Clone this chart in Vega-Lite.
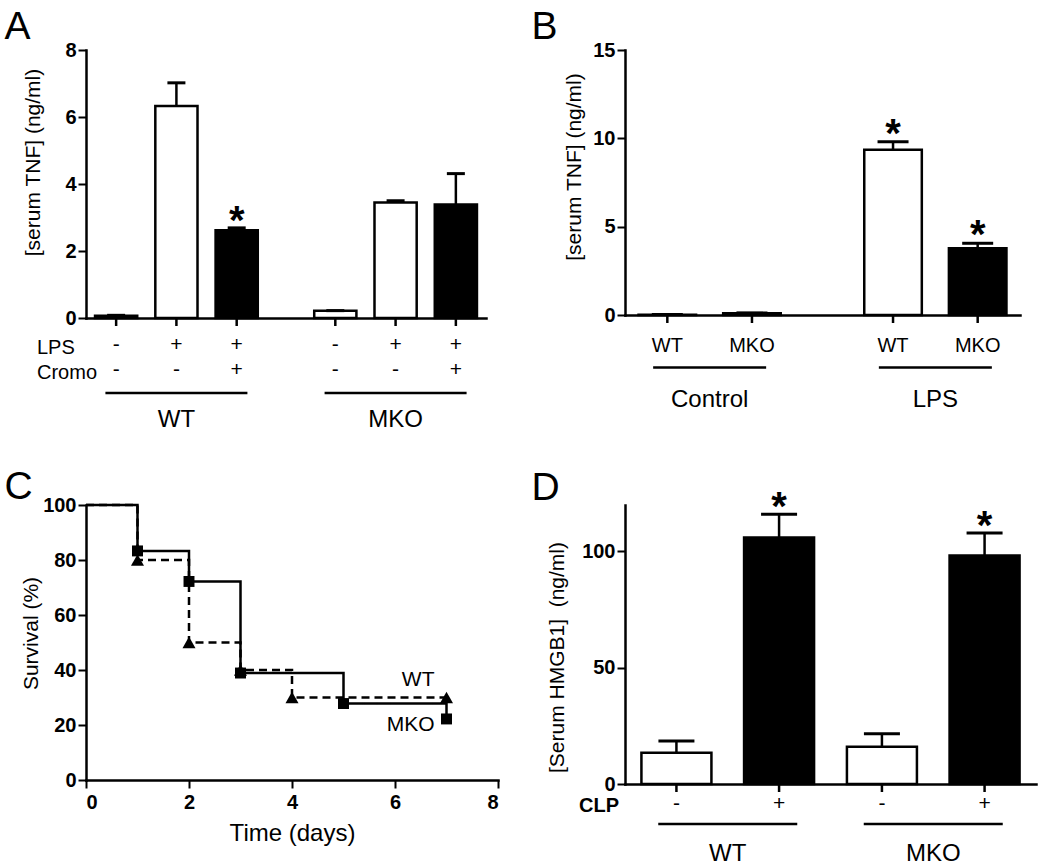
{
  "$schema": "https://vega.github.io/schema/vega-lite/v6.json",
  "background": "white",
  "padding": {"left": 4, "top": 8, "right": 5, "bottom": 0},
  "columns": 2,
  "spacing": {"row": 187, "column": 127},
  "bounds": "flush",
  "align": "each",
  "resolve": {"scale": {"xOffset": "independent", "fill": "independent", "strokeDash": "independent", "shape": "independent", "size": "independent"}},
  "config": {
    "font": "Liberation Sans",
    "view": {"stroke": null},
    "axis": {"domainColor": "black", "domainWidth": 2.5, "domainCap": "square", "tickColor": "black", "tickWidth": 2, "tickSize": 8, "labelColor": "black", "titleColor": "black", "grid": false, "labelFontSize": 20, "labelFontWeight": "bold", "titleFontSize": 21, "titleFontWeight": "normal", "labelPadding": 2},
    "title": {"fontSize": 39, "fontWeight": "normal", "anchor": "start", "frame": "group", "color": "black", "baseline": "alphabetic"},
    "text": {"color": "black"}
  },
  "concat": [
    {
      "width": 400, "height": 268,
      "title": {"text": "A", "dx": -81.5, "offset": -7},
      "data": {"values": [
        {"genotype": "WT", "cond": "c1", "LPS": "-", "Cromo": "-", "mean": 0.07, "upper": 0.08, "sig": ""},
        {"genotype": "WT", "cond": "c2", "LPS": "+", "Cromo": "-", "mean": 6.33, "upper": 7.02, "sig": ""},
        {"genotype": "WT", "cond": "c3", "LPS": "+", "Cromo": "+", "mean": 2.62, "upper": 2.69, "sig": "*"},
        {"genotype": "MKO", "cond": "c1", "LPS": "-", "Cromo": "-", "mean": 0.22, "upper": 0.22, "sig": ""},
        {"genotype": "MKO", "cond": "c2", "LPS": "+", "Cromo": "-", "mean": 3.45, "upper": 3.5, "sig": ""},
        {"genotype": "MKO", "cond": "c3", "LPS": "+", "Cromo": "+", "mean": 3.39, "upper": 4.31, "sig": ""}
      ]},
      "encoding": {
        "x": {"field": "genotype", "type": "nominal", "scale": {"type": "band", "domain": ["WT", "MKO"], "paddingInner": 0.175, "paddingOuter": 0},
          "axis": {"title": ["LPS", "Cromo"], "labelAngle": 0, "ticks": false, "tickSize": 0, "labelPadding": 89, "labelFontSize": 24, "labelFontWeight": "normal", "titleX": -49.5, "titleY": 19, "titleAlign": "left", "titleBaseline": "top", "titleFontSize": 20, "titleLineHeight": 25, "titleAngle": 0}}
      },
      "layer": [
        {"mark": {"type": "bar", "stroke": "black", "strokeWidth": 2.5},
          "encoding": {
            "xOffset": {"field": "cond", "type": "nominal", "scale": {"type": "band", "domain": ["c1", "c2", "c3"], "paddingInner": 0.3, "paddingOuter": 0.15}},
            "y": {"field": "mean", "type": "quantitative", "scale": {"domain": [0, 8], "nice": false}, "axis": {"values": [0, 2, 4, 6, 8], "title": "[serum TNF] (ng/ml)", "titleX": -52.5, "titleY": 112, "titleBaseline": "middle"}},
            "fill": {"field": "Cromo", "type": "nominal", "scale": {"domain": ["-", "+"], "range": ["white", "black"]}, "legend": null}}},
        {"mark": {"type": "rule", "strokeWidth": 2.5, "color": "black"},
          "encoding": {"xOffset": {"field": "cond", "type": "nominal"}, "y": {"field": "mean", "type": "quantitative"}, "y2": {"field": "upper"}}},
        {"mark": {"type": "tick", "thickness": 3, "size": 18, "color": "black", "opacity": 1},
          "encoding": {"xOffset": {"field": "cond", "type": "nominal"}, "y": {"field": "upper", "type": "quantitative"}}},
        {"mark": {"type": "text", "fontSize": 40, "fontWeight": "bold", "baseline": "alphabetic", "dy": 6},
          "encoding": {"xOffset": {"field": "cond", "type": "nominal"}, "y": {"field": "upper", "type": "quantitative"}, "text": {"field": "sig"}}},
        {"mark": {"type": "tick", "thickness": 8, "size": 2.5, "color": "black", "opacity": 1},
          "encoding": {"xOffset": {"field": "cond", "type": "nominal"}, "y": {"datum": -0.12}}},
        {"mark": {"type": "text", "fontSize": 21, "baseline": "middle"},
          "encoding": {"xOffset": {"field": "cond", "type": "nominal"}, "y": {"datum": -0.8}, "text": {"field": "LPS"}}},
        {"mark": {"type": "text", "fontSize": 21, "baseline": "middle"},
          "encoding": {"xOffset": {"field": "cond", "type": "nominal"}, "y": {"datum": -1.55}, "text": {"field": "Cromo"}}},
        {"data": {"values": [{"genotype": "WT"}, {"genotype": "MKO"}]},
          "mark": {"type": "tick", "thickness": 2.5, "size": 142, "color": "black", "opacity": 1},
          "encoding": {"y": {"datum": -2.24}}}
      ]
    },
    {
      "width": 395, "height": 265,
      "title": {"text": "B", "dx": -93.5, "offset": -7},
      "data": {"values": [
        {"treatment": "Control", "genotype": "WT", "mean": 0.02, "upper": 0.03, "sig": ""},
        {"treatment": "Control", "genotype": "MKO", "mean": 0.1, "upper": 0.12, "sig": ""},
        {"treatment": "LPS", "genotype": "WT", "mean": 9.36, "upper": 9.81, "sig": "*"},
        {"treatment": "LPS", "genotype": "MKO", "mean": 3.78, "upper": 4.06, "sig": "*"}
      ]},
      "encoding": {
        "x": {"field": "treatment", "type": "nominal", "scale": {"type": "band", "domain": ["Control", "LPS"], "paddingInner": 0.25, "paddingOuter": 0},
          "axis": {"title": null, "labelAngle": 0, "ticks": false, "tickSize": 0, "labelPadding": 72, "labelFontSize": 24, "labelFontWeight": "normal"}}
      },
      "layer": [
        {"mark": {"type": "bar", "stroke": "black", "strokeWidth": 2.5},
          "encoding": {
            "xOffset": {"field": "genotype", "type": "nominal", "scale": {"type": "band", "domain": ["WT", "MKO"], "paddingInner": 0.32, "paddingOuter": 0.16}},
            "y": {"field": "mean", "type": "quantitative", "scale": {"domain": [0, 15], "nice": false}, "axis": {"values": [0, 5, 10, 15], "title": "[serum TNF] (ng/ml)", "titleX": -51, "titleY": 116.5, "titleBaseline": "middle"}},
            "fill": {"field": "genotype", "type": "nominal", "scale": {"domain": ["WT", "MKO"], "range": ["white", "black"]}, "legend": null}}},
        {"mark": {"type": "rule", "strokeWidth": 2.5, "color": "black"},
          "encoding": {"xOffset": {"field": "genotype", "type": "nominal"}, "y": {"field": "mean", "type": "quantitative"}, "y2": {"field": "upper"}}},
        {"mark": {"type": "tick", "thickness": 3, "size": 31, "color": "black", "opacity": 1},
          "encoding": {"xOffset": {"field": "genotype", "type": "nominal"}, "y": {"field": "upper", "type": "quantitative"}}},
        {"mark": {"type": "text", "fontSize": 40, "fontWeight": "bold", "baseline": "alphabetic", "dy": 5},
          "encoding": {"xOffset": {"field": "genotype", "type": "nominal"}, "y": {"field": "upper", "type": "quantitative"}, "text": {"field": "sig"}}},
        {"mark": {"type": "tick", "thickness": 8, "size": 2.5, "color": "black", "opacity": 1},
          "encoding": {"xOffset": {"field": "genotype", "type": "nominal"}, "y": {"datum": -0.225}}},
        {"mark": {"type": "text", "fontSize": 20, "baseline": "middle"},
          "encoding": {"xOffset": {"field": "genotype", "type": "nominal"}, "y": {"datum": -1.75}, "text": {"field": "genotype"}}},
        {"data": {"values": [{"treatment": "Control"}, {"treatment": "LPS"}]},
          "mark": {"type": "tick", "thickness": 2.5, "size": 113, "color": "black", "opacity": 1},
          "encoding": {"y": {"datum": -2.97}}}
      ]
    },
    {
      "width": 412, "height": 275,
      "title": {"text": "C", "dx": -81.5, "offset": -12},
      "data": {"values": [
        {"group": "WT", "time": 0, "survival": 100},
        {"group": "WT", "time": 1, "survival": 80},
        {"group": "WT", "time": 2, "survival": 50},
        {"group": "WT", "time": 3, "survival": 40},
        {"group": "WT", "time": 4, "survival": 30},
        {"group": "WT", "time": 7, "survival": 30},
        {"group": "MKO", "time": 0, "survival": 100},
        {"group": "MKO", "time": 1, "survival": 83.3},
        {"group": "MKO", "time": 2, "survival": 72.2},
        {"group": "MKO", "time": 3, "survival": 38.9},
        {"group": "MKO", "time": 5, "survival": 27.8},
        {"group": "MKO", "time": 7, "survival": 22.2}
      ]},
      "encoding": {
        "x": {"field": "time", "type": "quantitative", "scale": {"domain": [0, 8], "nice": false},
          "axis": {"values": [0, 2, 4, 6, 8], "title": "Time (days)", "titleFontSize": 24, "titleY": 41, "titleBaseline": "top", "labelPadding": 4}},
        "y": {"field": "survival", "type": "quantitative", "scale": {"domain": [0, 100], "nice": false},
          "axis": {"values": [0, 20, 40, 60, 80, 100], "title": "Survival (%)", "titleX": -55, "titleY": 128, "titleBaseline": "middle"}}
      },
      "layer": [
        {"mark": {"type": "line", "interpolate": "step-after", "strokeWidth": 2.5, "color": "black"},
          "encoding": {"detail": {"field": "group"}, "strokeDash": {"field": "group", "type": "nominal", "scale": {"domain": ["MKO", "WT"], "range": [[1, 0], [8, 5]]}, "legend": null}}},
        {"transform": [{"filter": "datum.time > 0"}],
          "mark": {"type": "point", "filled": true, "color": "black", "opacity": 1},
          "encoding": {
            "shape": {"field": "group", "type": "nominal", "scale": {"domain": ["MKO", "WT"], "range": ["square", "triangle-up"]}, "legend": null},
            "size": {"field": "group", "type": "nominal", "scale": {"domain": ["MKO", "WT"], "range": [120, 170]}, "legend": null}}},
        {"transform": [{"filter": "datum.group == 'WT' && datum.time == 7"}],
          "mark": {"type": "text", "fontSize": 21, "align": "right", "baseline": "middle", "dx": -12, "dy": -18},
          "encoding": {"text": {"field": "group"}}},
        {"transform": [{"filter": "datum.group == 'MKO' && datum.time == 7"}],
          "mark": {"type": "text", "fontSize": 21, "align": "right", "baseline": "middle", "dx": -12, "dy": 6},
          "encoding": {"text": {"field": "group"}}}
      ]
    },
    {
      "width": 411, "height": 279,
      "title": {"text": "D", "dx": -93.5, "offset": -20},
      "data": {"values": [
        {"genotype": "WT", "CLP": "-", "mean": 13.4, "upper": 18.5, "sig": ""},
        {"genotype": "WT", "CLP": "+", "mean": 106, "upper": 116, "sig": "*"},
        {"genotype": "MKO", "CLP": "-", "mean": 16, "upper": 21.6, "sig": ""},
        {"genotype": "MKO", "CLP": "+", "mean": 98.3, "upper": 108, "sig": "*"}
      ]},
      "encoding": {
        "x": {"field": "genotype", "type": "nominal", "scale": {"type": "band", "domain": ["WT", "MKO"], "paddingInner": 0, "paddingOuter": 0},
          "axis": {"title": "CLP", "labelAngle": 0, "ticks": false, "tickSize": 0, "labelPadding": 57, "labelFontSize": 24, "labelFontWeight": "normal", "titleX": -46.5, "titleY": 11.5, "titleAlign": "left", "titleBaseline": "top", "titleFontSize": 20, "titleFontWeight": "bold", "titleAngle": 0}}
      },
      "layer": [
        {"mark": {"type": "bar", "stroke": "black", "strokeWidth": 2.5},
          "encoding": {
            "xOffset": {"field": "CLP", "type": "nominal", "scale": {"type": "band", "domain": ["-", "+"], "paddingInner": 0.318, "paddingOuter": 0.16}},
            "y": {"field": "mean", "type": "quantitative", "scale": {"domain": [0, 120], "nice": false}, "axis": {"values": [0, 50, 100], "title": "[Serum HMGB1]\u00a0 (ng/ml)", "titleX": -68, "titleY": 152, "titleBaseline": "middle"}},
            "fill": {"field": "CLP", "type": "nominal", "scale": {"domain": ["-", "+"], "range": ["white", "black"]}, "legend": null}}},
        {"mark": {"type": "rule", "strokeWidth": 2.5, "color": "black"},
          "encoding": {"xOffset": {"field": "CLP", "type": "nominal"}, "y": {"field": "mean", "type": "quantitative"}, "y2": {"field": "upper"}}},
        {"mark": {"type": "tick", "thickness": 3, "size": 36, "color": "black", "opacity": 1},
          "encoding": {"xOffset": {"field": "CLP", "type": "nominal"}, "y": {"field": "upper", "type": "quantitative"}}},
        {"mark": {"type": "text", "fontSize": 40, "fontWeight": "bold", "baseline": "alphabetic", "dy": 6},
          "encoding": {"xOffset": {"field": "CLP", "type": "nominal"}, "y": {"field": "upper", "type": "quantitative"}, "text": {"field": "sig"}}},
        {"mark": {"type": "tick", "thickness": 8, "size": 2.5, "color": "black", "opacity": 1},
          "encoding": {"xOffset": {"field": "CLP", "type": "nominal"}, "y": {"datum": -1.72}}},
        {"mark": {"type": "text", "fontSize": 21, "baseline": "middle"},
          "encoding": {"xOffset": {"field": "CLP", "type": "nominal"}, "y": {"datum": -8.8}, "text": {"field": "CLP"}}},
        {"data": {"values": [{"genotype": "WT"}, {"genotype": "MKO"}]},
          "mark": {"type": "tick", "thickness": 2.5, "size": 139, "color": "black", "opacity": 1},
          "encoding": {"y": {"datum": -17.2}}}
      ]
    }
  ]
}
